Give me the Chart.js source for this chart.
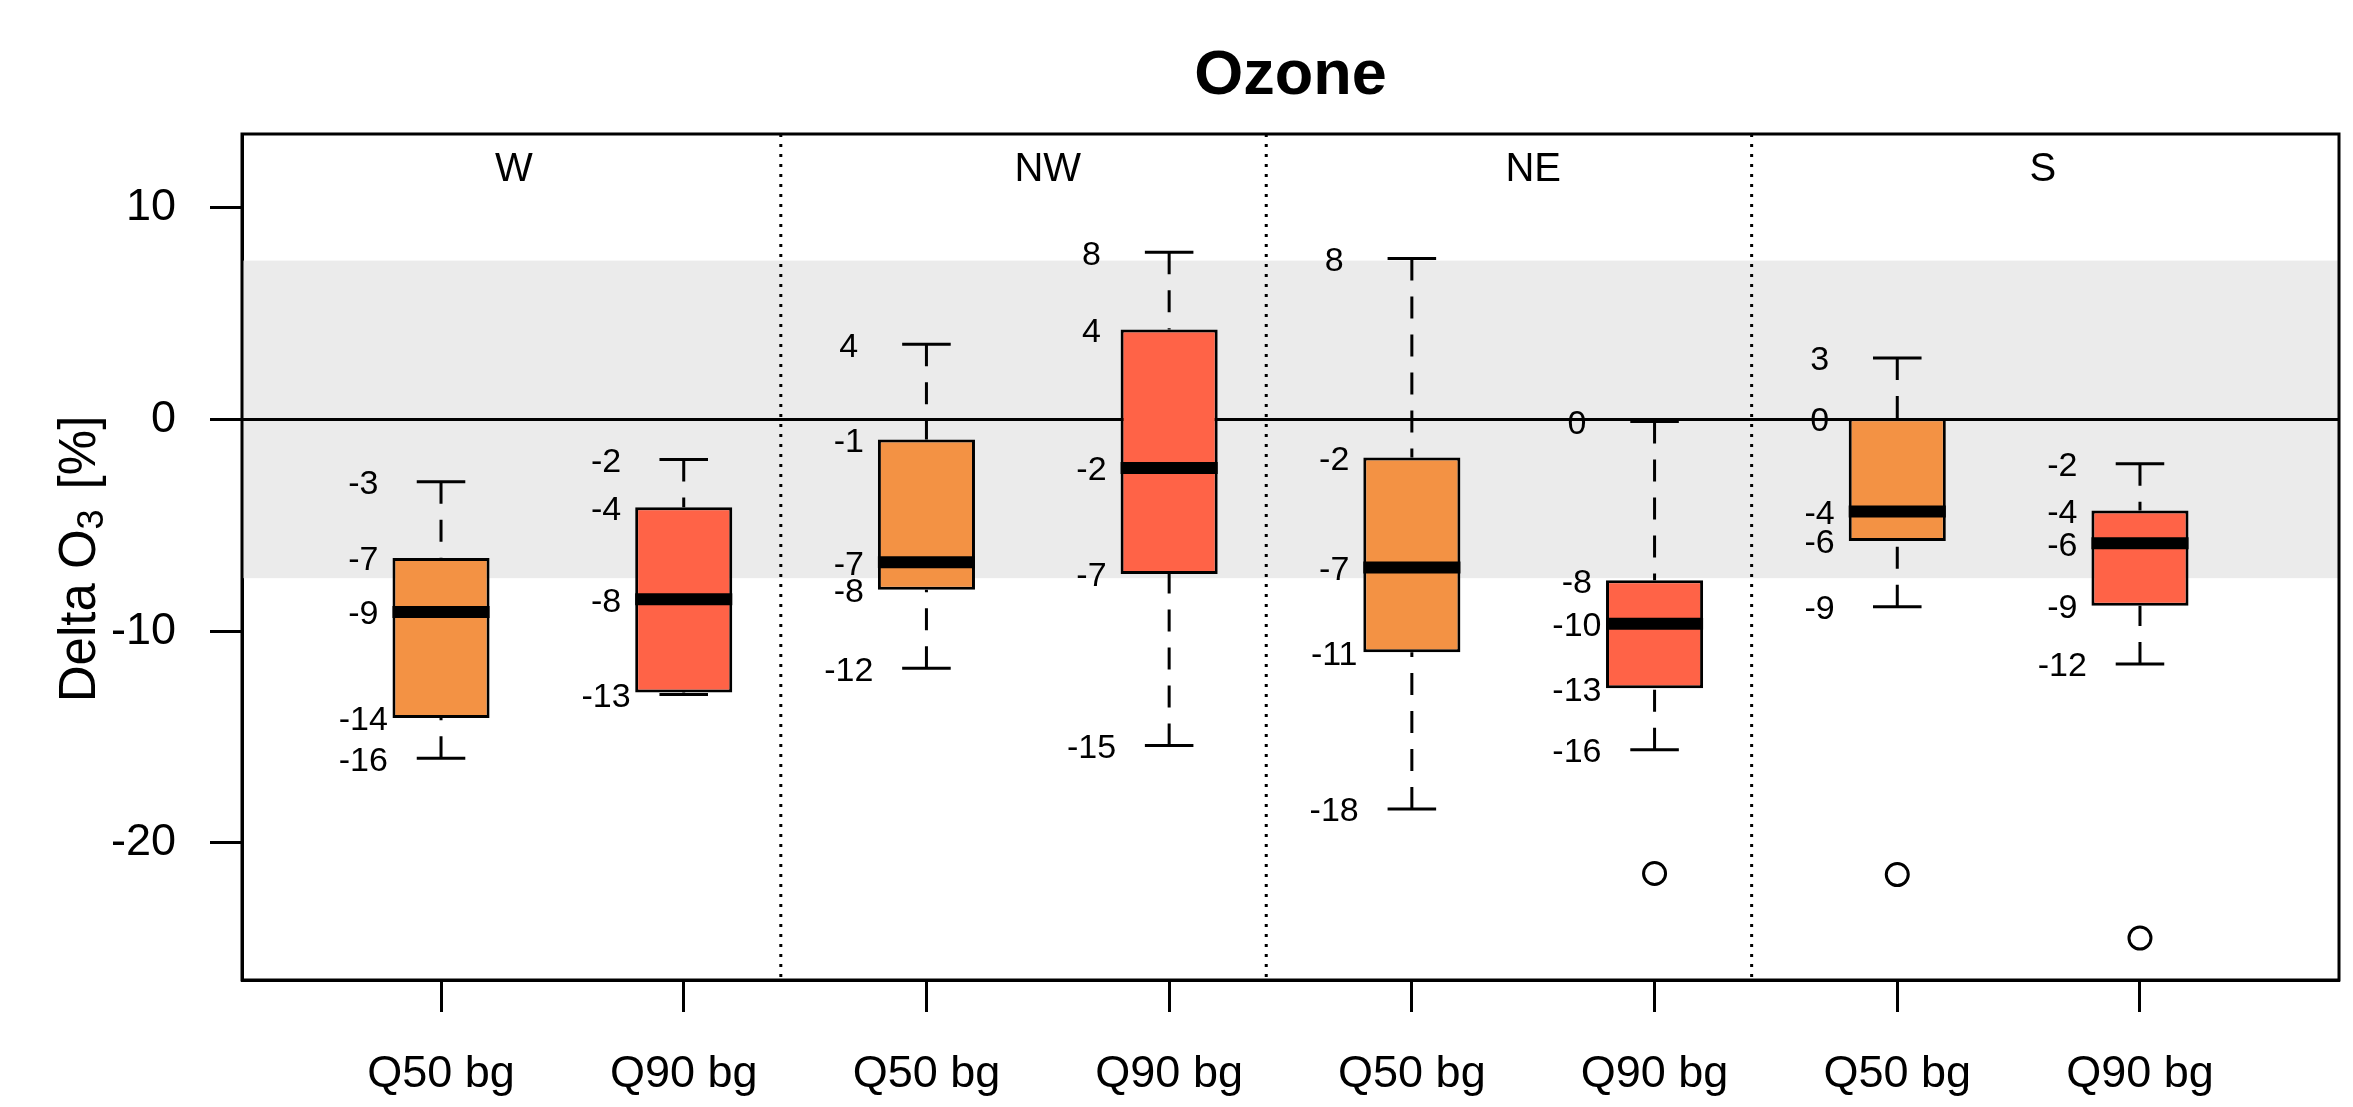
<!DOCTYPE html>
<html>
<head>
<meta charset="utf-8">
<title>Ozone</title>
<script src="https://cdn.jsdelivr.net/npm/chart.js@4.4.1/dist/chart.umd.min.js"></script>
<style>
    html, body { margin: 0; padding: 0; background: #ffffff; }
    canvas { display: block; }
</style>
</head>
<body>
<canvas id="ozoneChart" width="2353" height="1107"></canvas>
<script>
// Boxplot statistics per box
const positions = [1, 2, 3, 4, 5, 6, 7, 8];
const xLabels = ['Q50 bg', 'Q90 bg', 'Q50 bg', 'Q90 bg', 'Q50 bg', 'Q90 bg', 'Q50 bg', 'Q90 bg'];
const whiskerLow = [-16.0, -13.0, -11.75, -15.4, -18.4, -15.6, -8.85, -11.55];
const q1 = [-14.1, -12.9, -8.05, -7.3, -11.0, -12.7, -5.75, -8.8];
const median = [-9.1, -8.5, -6.75, -2.3, -7.0, -9.65, -4.35, -5.85];
const q3 = [-6.55, -4.15, -0.95, 4.25, -1.8, -7.6, 0.05, -4.3];
const whiskerHigh = [-2.95, -1.9, 3.55, 7.9, 7.6, -0.1, 2.9, -2.1];

// Outliers
const outlierX = [6, 7, 8];
const outlierY = [-21.45, -21.5, -24.5];

// Wind sectors
const sectors = ['W', 'NW', 'NE', 'S'];
const sectorPos = [1.3, 3.5, 5.5, 7.6];
const dividers = [2.4, 4.4, 6.4];

const yTicks = [-20, -10, 0, 10];
const bandLimit = 7.5;

const FONT = '"Liberation Sans", Arial, sans-serif';
const boxColors = positions.map((p, i) => (i % 2 === 0 ? '#F39244' : '#FF6347'));

/**
 * Extra boxplot parts: band, zero line, whiskers, medians, labels, frame
 */
const boxExtras = {
    id: 'boxExtras',

    beforeDatasetsDraw(chart) {
        const { ctx, chartArea } = chart;
        const xs = chart.scales.x;
        const ys = chart.scales.y;
        ctx.save();

        // grey band
        ctx.fillStyle = '#EBEBEB';
        const bTop = ys.getPixelForValue(bandLimit);
        const bBot = ys.getPixelForValue(-bandLimit);
        ctx.fillRect(chartArea.left, bTop, chartArea.right - chartArea.left, bBot - bTop);

        // zero line
        ctx.strokeStyle = '#000';
        ctx.lineWidth = 3;
        ctx.beginPath();
        ctx.moveTo(chartArea.left, ys.getPixelForValue(0));
        ctx.lineTo(chartArea.right, ys.getPixelForValue(0));
        ctx.stroke();

        // dotted sector dividers
        ctx.setLineDash([3, 7]);
        dividers.forEach(d => {
            const px = xs.getPixelForValue(d);
            ctx.beginPath();
            ctx.moveTo(px, chartArea.top);
            ctx.lineTo(px, chartArea.bottom);
            ctx.stroke();
        });
        ctx.restore();
    },

    afterDatasetsDraw(chart) {
        const { ctx, chartArea } = chart;
        const xs = chart.scales.x;
        const ys = chart.scales.y;
        const unit = xs.getPixelForValue(1) - xs.getPixelForValue(0);
        ctx.save();
        ctx.strokeStyle = '#000';
        ctx.fillStyle = '#000';

        positions.forEach((p, i) => {
            const x = xs.getPixelForValue(p);

            // dashed whiskers, drawn from whisker end to the box
            ctx.lineWidth = 3;
            ctx.setLineDash([22, 16]);
            ctx.beginPath();
            ctx.moveTo(x, ys.getPixelForValue(whiskerLow[i]));
            ctx.lineTo(x, ys.getPixelForValue(q1[i]));
            ctx.moveTo(x, ys.getPixelForValue(whiskerHigh[i]));
            ctx.lineTo(x, ys.getPixelForValue(q3[i]));
            ctx.stroke();
            ctx.setLineDash([]);

            // staples
            ctx.beginPath();
            [whiskerLow[i], whiskerHigh[i]].forEach(v => {
                const y = ys.getPixelForValue(v);
                ctx.moveTo(x - unit * 0.1, y);
                ctx.lineTo(x + unit * 0.1, y);
            });
            ctx.stroke();

            // median
            ctx.lineWidth = 12;
            ctx.beginPath();
            ctx.moveTo(x - unit * 0.2, ys.getPixelForValue(median[i]));
            ctx.lineTo(x + unit * 0.2, ys.getPixelForValue(median[i]));
            ctx.stroke();

            // value labels (skip a label that would sit on an identical one)
            ctx.font = '34px ' + FONT;
            ctx.textAlign = 'center';
            ctx.textBaseline = 'middle';
            const lx = xs.getPixelForValue(p - 0.32);
            const drawn = [];
            [whiskerLow[i], q1[i], median[i], q3[i], whiskerHigh[i]].forEach(v => {
                const txt = String(Math.round(v) || 0);
                const y = ys.getPixelForValue(v) + 3;
                if (drawn.some(d => d.txt === txt && Math.abs(d.y - y) < 6)) return;
                drawn.push({ txt, y });
                ctx.fillText(txt, lx, y);
            });
        });

        // sector names
        ctx.font = '40px ' + FONT;
        ctx.textAlign = 'center';
        ctx.textBaseline = 'alphabetic';
        sectors.forEach((s, i) => {
            ctx.fillText(s, xs.getPixelForValue(sectorPos[i]), chartArea.top + 47);
        });

        // frame
        ctx.lineWidth = 3;
        ctx.strokeRect(chartArea.left, chartArea.top, chartArea.right - chartArea.left, chartArea.bottom - chartArea.top);

        // title, centred on the plot area
        ctx.font = 'bold 63px ' + FONT;
        ctx.fillText('Ozone', (chartArea.left + chartArea.right) / 2, 94);

        // y axis title with subscript
        const mainFont = '51px ' + FONT;
        const subFont = '36px ' + FONT;
        ctx.font = mainFont;
        const w1 = ctx.measureText('Delta O').width;
        const w3 = ctx.measureText('[%]').width;
        ctx.font = subFont;
        const w2 = ctx.measureText('3').width;
        const gap = 20;
        const total = w1 + w2 + gap + w3;
        ctx.translate(95, (chartArea.top + chartArea.bottom) / 2 + 2);
        ctx.rotate(-Math.PI / 2);
        ctx.textAlign = 'left';
        let cx = -total / 2;
        ctx.font = mainFont;
        ctx.fillText('Delta O', cx, 0);
        cx += w1;
        ctx.font = subFont;
        ctx.fillText('3', cx, 8);
        cx += w2 + gap;
        ctx.font = mainFont;
        ctx.fillText('[%]', cx, 0);

        ctx.restore();
    }
};

const ctx = document.getElementById('ozoneChart');

new Chart(ctx, {
    data: {
        datasets: [{
            type: 'bar',
            data: positions.map((p, i) => ({ x: p, y: [q1[i], q3[i]] })),
            backgroundColor: boxColors,
            borderColor: '#000',
            borderWidth: 3,
            borderSkipped: false,
            categoryPercentage: 1,
            barPercentage: 0.4
        }, {
            type: 'scatter',
            data: outlierX.map((x, i) => ({ x: x, y: outlierY[i] })),
            pointStyle: 'circle',
            pointRadius: 11,
            pointBorderWidth: 3,
            pointBorderColor: '#000',
            pointBackgroundColor: 'rgba(0,0,0,0)'
        }]
    },
    options: {
        responsive: false,
        animation: false,
        layout: {
            padding: { top: 134, right: 2, left: 0, bottom: 0 }
        },
        plugins: {
            legend: { display: false },
            tooltip: { enabled: false },
            title: { display: false }
        },
        scales: {
            x: {
                type: 'linear',
                offset: false,
                min: 0.18,
                max: 8.82,
                afterFit: (scale) => {
                    scale.height = 127;
                    scale.paddingLeft = 0;
                    scale.paddingRight = 0;
                },
                afterBuildTicks: (scale) => { scale.ticks = positions.map(v => ({ value: v })); },
                grid: {
                    offset: false,
                    drawOnChartArea: false,
                    drawTicks: true,
                    tickLength: 32,
                    tickWidth: 3,
                    tickColor: '#000'
                },
                border: { display: true, color: '#000', width: 3 },
                ticks: {
                    autoSkip: false,
                    maxRotation: 0,
                    padding: 36,
                    color: '#000',
                    font: { family: FONT, size: 45 },
                    callback: (value) => xLabels[positions.indexOf(value)]
                }
            },
            y: {
                type: 'linear',
                min: -26.48,
                max: 13.48,
                afterFit: (scale) => { scale.width = 242; },
                afterBuildTicks: (scale) => { scale.ticks = yTicks.map(v => ({ value: v })); },
                grid: {
                    drawOnChartArea: false,
                    drawTicks: true,
                    tickLength: 32,
                    tickWidth: 3,
                    tickColor: '#000'
                },
                border: { display: true, color: '#000', width: 3 },
                ticks: {
                    padding: 34,
                    color: '#000',
                    font: { family: FONT, size: 45 }
                }
            }
        }
    },
    plugins: [boxExtras]
});
</script>
</body>
</html>
